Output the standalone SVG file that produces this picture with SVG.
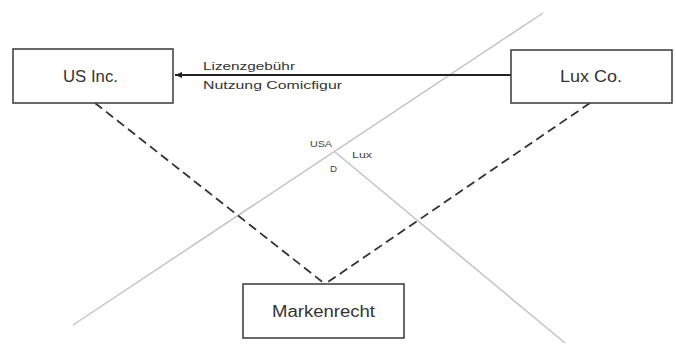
<svg xmlns="http://www.w3.org/2000/svg" width="676" height="345" viewBox="0 0 676 345">
<style>
.box{fill:#fff;stroke:#444;stroke-width:1.6}
.t{font-family:"Liberation Sans",Arial,sans-serif;font-size:16px;fill:#333}
.s{font-family:"Liberation Sans",Arial,sans-serif;font-size:11.5px;fill:#333}
.xs{font-family:"Liberation Sans",Arial,sans-serif;font-size:9.5px;fill:#444}
.g{stroke:#c4c4c4;stroke-width:1.5;fill:none}
.d{stroke:#333;stroke-width:1.8;stroke-dasharray:9,5;fill:none}
</style>
<defs>
<marker id="ah" markerWidth="8" markerHeight="8" refX="7" refY="4" orient="auto" markerUnits="userSpaceOnUse">
<path d="M0,1 L7,4 L0,7 Z" fill="#222"/>
</marker>
</defs>
<g id="borders">
<line class="g" x1="73" y1="325" x2="543" y2="13"/>
<line class="g" x1="335" y1="152" x2="565" y2="343"/>
<text class="xs" x="310" y="147" textLength="22" lengthAdjust="spacingAndGlyphs">USA</text>
<text class="xs" x="352" y="158" textLength="20" lengthAdjust="spacingAndGlyphs">Lux</text>
<text class="xs" x="330" y="172" textLength="7" lengthAdjust="spacingAndGlyphs">D</text>
</g>
<g id="connectors">
<line class="d" x1="95" y1="103" x2="325" y2="284"/>
<line class="d" x1="590" y1="103" x2="325" y2="284"/>
<line x1="511" y1="75" x2="175" y2="75" stroke="#222" stroke-width="1.8" marker-end="url(#ah)"/>
<text class="s" x="203" y="70" textLength="92" lengthAdjust="spacingAndGlyphs">Lizenzgebühr</text>
<text class="s" x="203" y="89" textLength="139" lengthAdjust="spacingAndGlyphs">Nutzung Comicfigur</text>
</g>
<g id="us-inc">
<rect class="box" x="13" y="49" width="160" height="54"/>
<text class="t" x="63" y="82" textLength="55" lengthAdjust="spacingAndGlyphs">US Inc.</text>
</g>
<g id="lux-co">
<rect class="box" x="511" y="50" width="161" height="53"/>
<text class="t" x="560" y="82" textLength="62" lengthAdjust="spacingAndGlyphs">Lux Co.</text>
</g>
<g id="markenrecht">
<rect class="box" x="243" y="284" width="161" height="54"/>
<text class="t" x="272" y="317" textLength="103" lengthAdjust="spacingAndGlyphs">Markenrecht</text>
</g>
</svg>
